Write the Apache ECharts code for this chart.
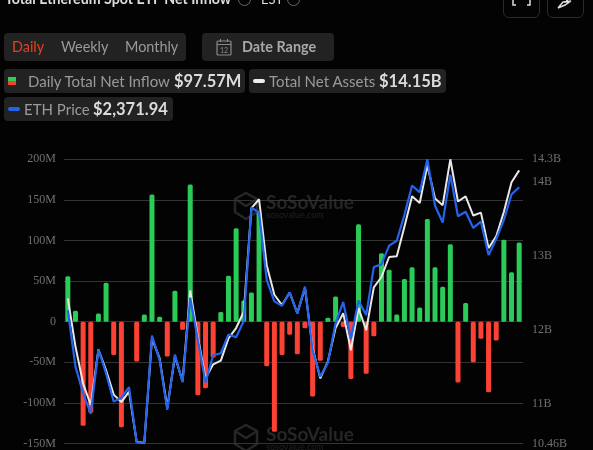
<!DOCTYPE html>
<html>
<head>
<meta charset="utf-8">
<script src="https://cdn.jsdelivr.net/npm/echarts@6/dist/echarts.min.js"></script>
<style>
  html, body { margin: 0; padding: 0; background: #030303; overflow: hidden; }
  #chart { position: absolute; left: 0; top: 0; width: 593px; height: 450px; }
  .t { position: absolute; white-space: nowrap; font-family: Lato, sans-serif; color: #9a9a9a; font-size: 15px; line-height: 20px; }
  .s { font-size: 14.4px; }
  .b { font-weight: 700; color: #dcdcdc; font-size: 16.5px; }
  .box { position: absolute; background: #222; border-radius: 4px; }
  .pill { position: absolute; width: 12px; height: 4px; border-radius: 2px; }
  .ring { position: absolute; width: 11px; height: 11px; border: 1px solid #666; border-radius: 50%; }
  .btn { position: absolute; top: -20px; width: 35px; height: 36px; border: 1px solid #2a2a2a; border-radius: 6px; }
</style>
</head>
<body>
<div id="chart"></div>

<div class="t" style="left:5px;top:-11px;font-weight:700;color:#ddd;font-size:14.2px">Total Ethereum Spot ETF Net Inflow</div>
<div class="ring" style="left:238px;top:-7px"></div>
<div class="t" style="left:261px;top:-11px;color:#ddd;font-size:13px">EST</div>
<div class="ring" style="left:287px;top:-7px"></div>
<div class="btn" style="left:503px"></div>
<div class="btn" style="left:547px"></div>
<svg style="position:absolute;left:503px;top:0" width="80" height="12" fill="none" stroke="#ddd" stroke-width="1.5">
  <path d="M10 0V5H13M27 0V5H24"/>
  <path d="M55 8L60 2H64V0M60 2L68 1L62 5L55 8"/>
</svg>

<div class="box" style="left:4px;top:33px;width:182px;height:28px"></div>
<div class="t s" style="left:12px;top:37px;color:#e8401f">Daily</div>
<div class="t s" style="left:61px;top:37px">Weekly</div>
<div class="t s" style="left:125px;top:37px">Monthly</div>
<div class="box" style="left:202px;top:33px;width:132px;height:28px"></div>
<svg style="position:absolute;left:216px;top:38px" width="17" height="18" fill="none" stroke="#8a8a8a" stroke-width="1.2">
  <rect x="1" y="3" width="14" height="14" rx="1"/>
  <path d="M1 6.5H15M4.5 1V4M11.5 1V4"/>
  <text x="8" y="14.5" text-anchor="middle" font-size="7" fill="#8a8a8a" stroke="none" font-family="Lato">12</text>
</svg>
<div class="t s" style="left:242px;top:37px;font-weight:700;color:#a8a8a8">Date Range</div>

<div class="box" style="left:4px;top:69px;width:241px;height:24px"></div>
<div style="position:absolute;left:8px;top:77px;width:8px;height:4px;background:#2fcc5c"></div>
<div style="position:absolute;left:8px;top:81px;width:8px;height:4px;background:#f7412d"></div>
<div class="t" style="left:28px;top:71px">Daily Total Net Inflow</div>
<div class="t b" style="left:174px;top:71px">$97.57M</div>
<div class="box" style="left:249px;top:69px;width:197px;height:24px"></div>
<div class="pill" style="left:253px;top:79px;background:#eee"></div>
<div class="t" style="left:269px;top:71px">Total Net Assets</div>
<div class="t b" style="left:379px;top:71px">$14.15B</div>
<div class="box" style="left:4px;top:97px;width:169px;height:24px"></div>
<div class="pill" style="left:8px;top:107px;background:#2563eb"></div>
<div class="t" style="left:24px;top:99px">ETH Price</div>
<div class="t b" style="left:93px;top:99px">$2,371.94</div>

<script>
// daily net inflow in $M
const netInflow = [56, 13.5, -128, -112, 10, 48, -41, -130, 0, -49, 9, 156.5, 6, -43, 38, -10, 169, -90.5, -82, -44,
  12, 56.5, 115, 26, 36, 135, -55, -135.6, -41, -16, -40, -8, -92, -48, 5, 31, -6.5, -70.5, 120, -64,
  -18, 84.4, 64, 9, 52.5, 67, 17.6, 126.6, 67, 43, 95.5, -75, 23, -50, -21, -87, -23, 101, 61, 97.57];
// total net assets in $B
const netAssets = [12.42, 11.77, 11.27, 10.98, 11.73, 11.45, 11.12, 11.02, 11.16, 10.48, 10.47, 11.88, 11.61, 10.94, 11.64, 11.30, 12.53, 11.90, 11.34, 11.53,
  11.58, 11.88, 12.02, 12.24, 13.64, 13.76, 12.87, 12.47, 12.33, 12.50, 12.22, 12.56, 11.75, 11.34, 11.57, 12.02, 12.22, 11.72, 12.29, 11.99,
  12.57, 12.71, 12.98, 12.99, 13.39, 13.80, 13.71, 14.22, 13.77, 13.68, 14.30, 13.73, 13.80, 13.54, 13.58, 13.10, 13.26, 13.59, 13.99, 14.15];
const ethPrice = [1940, 1742, 1648, 1576, 1802, 1718, 1619, 1633, 1670, 1476, 1475, 1851, 1765, 1590, 1784, 1687, 1984, 1836, 1686, 1782,
  1789, 1855, 1845, 1902, 2300, 2283, 2046, 1971, 1956, 2003, 1929, 2023, 1800, 1707, 1756, 1894, 1969, 1839, 1974, 1923,
  2092, 2101, 2167, 2184, 2275, 2378, 2354, 2470, 2307, 2248, 2416, 2270, 2286, 2229, 2251, 2134, 2190, 2257, 2347, 2371.94];
const assetTicks = [10.46, 11, 12, 13, 14, 14.3];
const days = netInflow.map((_, i) => i);

const chart = echarts.init(document.getElementById('chart'));

// faint logo + name, drawn twice behind the marks
const watermark = (y) => ({
  type: 'group', x: 234, y: y, silent: true, z: 0,
  children: [
    { type: 'polygon', shape: { points: [[12, 0], [23, 6], [23, 19], [12, 26], [1, 19], [1, 6]] }, style: { fill: 'none', stroke: '#262626', lineWidth: 2.5 } },
    { type: 'polyline', shape: { points: [[1, 6], [12, 13], [23, 6]] }, style: { fill: 'none', stroke: '#262626', lineWidth: 2.5 } },
    { type: 'text', x: 32, y: 0, style: { text: 'SoSoValue', fill: '#262626', font: '700 19px Lato' } },
    { type: 'text', x: 32, y: 18, style: { text: 'sosovalue.com', fill: '#222', font: '9px Lato' } }
  ]
});

chart.setOption({
  animation: false,
  backgroundColor: '#030303',
  graphic: [watermark(193), watermark(425)],
  grid: { left: 64, right: 70, top: 159.3, bottom: 6.5 },
  xAxis: { type: 'category', data: days, show: false },
  yAxis: [
    {
      type: 'value', min: -150, max: 200, interval: 50,
      axisLine: { show: false }, axisTick: { show: false },
      splitLine: { lineStyle: { color: '#333', width: 1 } },
      axisLabel: { color: '#707070', fontFamily: 'Liberation Serif', fontSize: 12, margin: 8, formatter: (v) => v === 0 ? '0' : v + 'M' }
    },
    {
      type: 'value', min: 10.46, max: 14.3, position: 'right',
      axisLine: { show: false }, axisTick: { show: false }, splitLine: { show: false },
      axisLabel: { color: '#707070', fontFamily: 'Liberation Serif', fontSize: 12, margin: 9, padding: [0, 0, 2, 0], customValues: assetTicks, formatter: (v) => v + 'B' }
    },
    { type: 'value', min: 1472, max: 2470, show: false }
  ],
  series: [
    {
      name: 'Daily Total Net Inflow', type: 'bar', data: netInflow, barWidth: 5,
      itemStyle: {
        color: (p) => p.value >= 0 ? '#2bcb58' : '#fb4234',
        borderRadius: 1.5
      }
    },
    {
      name: 'Total Net Assets', type: 'line', yAxisIndex: 1, data: netAssets,
      showSymbol: false, lineStyle: { color: '#e8e8e8', width: 2 }
    },
    {
      name: 'ETH Price', type: 'line', yAxisIndex: 2, data: ethPrice,
      showSymbol: false, lineStyle: { color: '#2563eb', width: 2.2 }
    }
  ]
});
</script>
</body>
</html>
